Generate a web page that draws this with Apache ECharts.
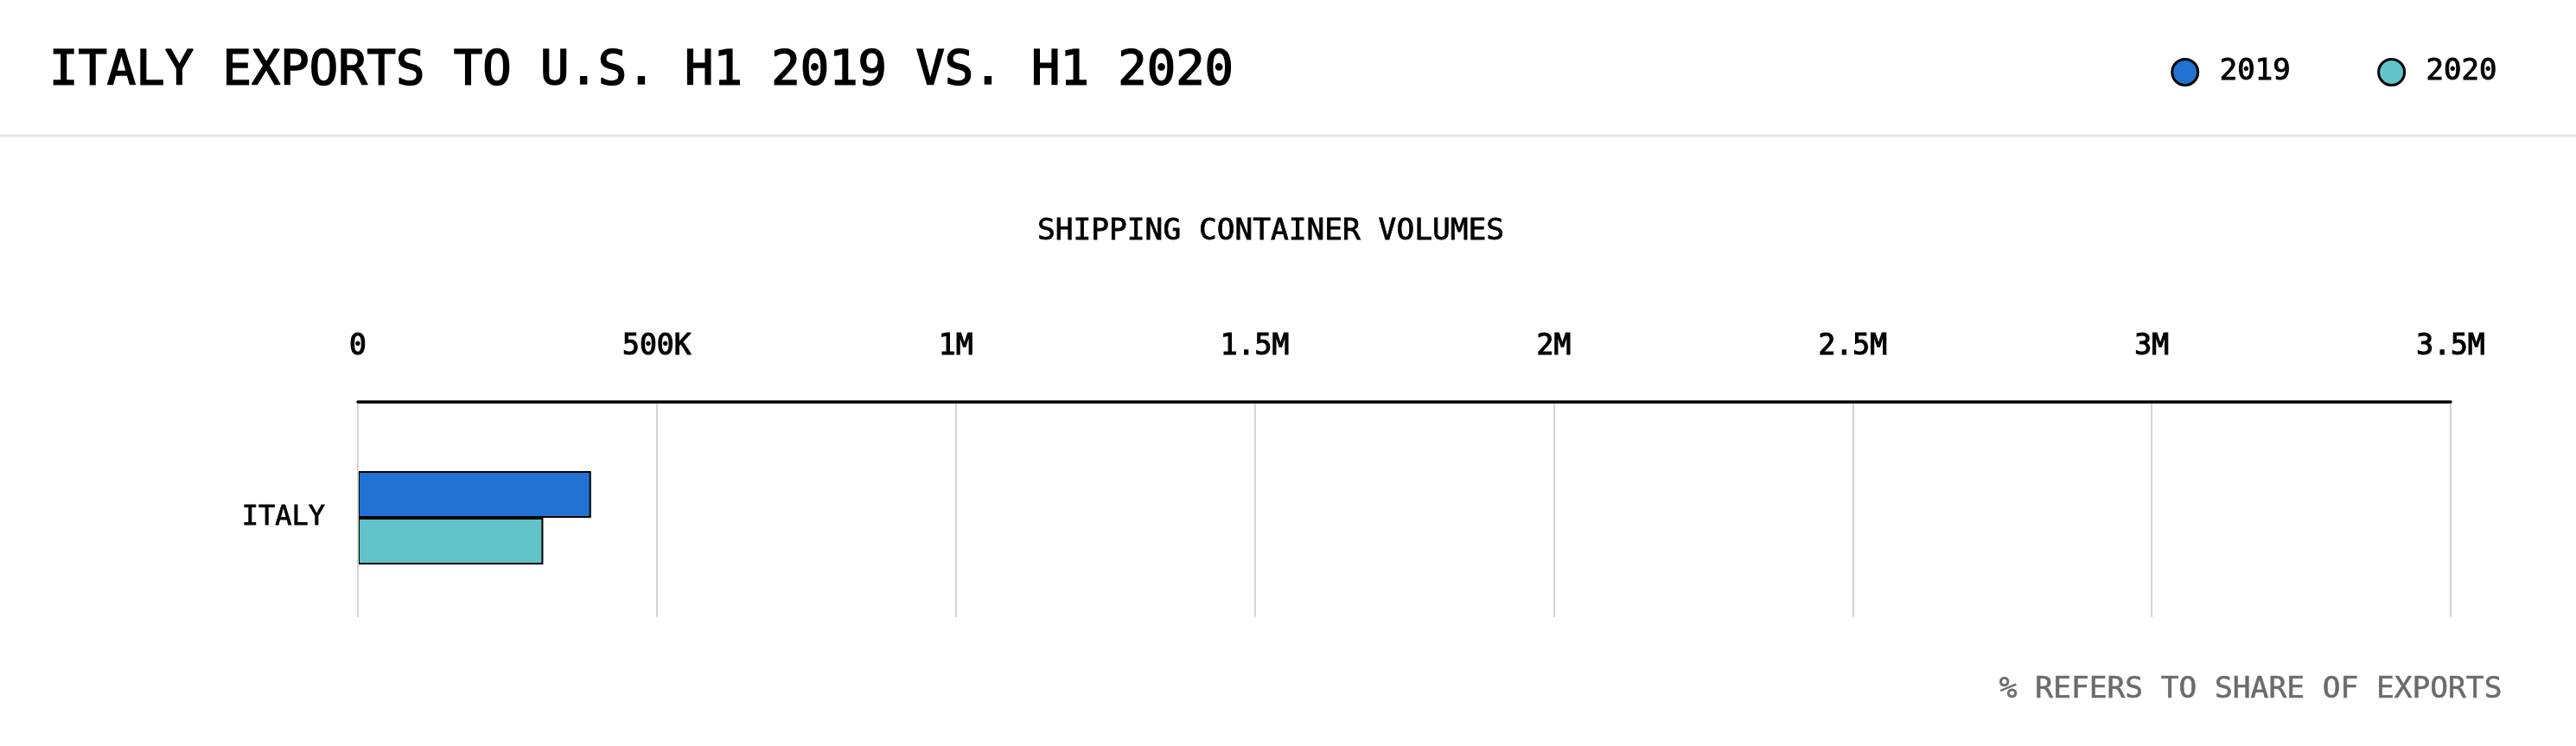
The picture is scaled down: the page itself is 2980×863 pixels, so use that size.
<!DOCTYPE html>
<html>
<head>
<meta charset="utf-8">
<script src="https://cdn.jsdelivr.net/npm/echarts@6/dist/echarts.min.js"></script>
<style>
html,body{margin:0;padding:0;background:#fff;}
#chart{width:2980px;height:863px;}
</style>
</head>
<body>
<div id="chart"></div>
<script>
const categories = ['ITALY'];
const seriesNames = ['2019', '2020'];
const values2019 = [390000];
const values2020 = [310000];
const tickLabels = ['0', '500K', '1M', '1.5M', '2M', '2.5M', '3M', '3.5M'];
const axisMin = 0;
const axisMax = 3500000;
const axisInterval = 500000;

const FONT = 'DejaVu Sans Mono';
const chart = echarts.init(document.getElementById('chart'));

chart.setOption({
  backgroundColor: '#ffffff',
  animation: false,
  title: [
    {
      text: 'ITALY EXPORTS TO U.S. H1 2019 VS. H1 2020',
      left: 52,
      top: 50,
      textStyle: { fontFamily: FONT, fontSize: 55.5, fontWeight: 'normal', color: '#000',
        textBorderColor: '#000', textBorderWidth: 1.6 }
    },
    {
      text: '% REFERS TO SHARE OF EXPORTS',
      right: 80,
      top: 776,
      textStyle: { fontFamily: FONT, fontSize: 34.5, fontWeight: 'normal', color: '#6b6b6b',
        textBorderColor: '#6b6b6b', textBorderWidth: 0.6 }
    }
  ],
  legend: {
    data: seriesNames,
    right: 86,
    top: 61,
    icon: 'circle',
    itemWidth: 30,
    itemHeight: 30,
    itemGap: 100,
    itemStyle: { borderColor: '#000', borderWidth: 3 },
    textStyle: { fontFamily: FONT, fontSize: 34, color: '#000', padding: [0, 0, 0, 20],
      textBorderColor: '#000', textBorderWidth: 1 }
  },
  graphic: [
    {
      type: 'line',
      shape: { x1: 0, y1: 157, x2: 2980, y2: 157 },
      style: { stroke: '#e6e6e6', lineWidth: 3 },
      silent: true
    },
    {
      type: 'text',
      x: 1470,
      y: 268,
      style: {
        text: 'SHIPPING CONTAINER VOLUMES',
        fontFamily: FONT,
        fontSize: 34.5,
        fill: '#000',
        stroke: '#000',
        lineWidth: 0.8,
        align: 'center',
        verticalAlign: 'middle'
      },
      silent: true
    }
  ],
  grid: [
    { left: 414, right: 145, top: 465, height: 249, containLabel: false },
    { left: 414, right: 145, top: 465, height: 268, containLabel: false }
  ],
  xAxis: [
    {
      gridIndex: 0,
      type: 'value',
      position: 'top',
      min: axisMin,
      max: axisMax,
      interval: axisInterval,
      axisLine: { show: true, onZero: false, lineStyle: { color: '#000', width: 3.5 } },
      axisTick: { show: false },
      splitLine: { show: true, lineStyle: { color: '#d4d4d4', width: 2 } },
      axisLabel: {
        margin: 47,
        fontFamily: FONT,
        fontSize: 33,
        color: '#000',
        textBorderColor: '#000',
        textBorderWidth: 1.2,
        formatter: function (v) { return tickLabels[Math.round((v - axisMin) / axisInterval)]; }
      },
      z: 3
    },
    {
      gridIndex: 1,
      type: 'value',
      position: 'top',
      min: axisMin,
      max: axisMax,
      interval: axisInterval,
      show: false
    }
  ],
  yAxis: [
    {
      gridIndex: 0,
      type: 'category',
      data: categories,
      show: false
    },
    {
      gridIndex: 1,
      type: 'category',
      data: categories,
      axisLine: { show: false },
      axisTick: { show: false },
      splitLine: { show: false },
      axisLabel: { margin: 38, fontFamily: FONT, fontSize: 32, color: '#000',
        textBorderColor: '#000', textBorderWidth: 0.8 }
    }
  ],
  series: [
    {
      name: seriesNames[0],
      type: 'bar',
      xAxisIndex: 1,
      yAxisIndex: 1,
      data: values2019,
      barWidth: 54,
      barGap: '0%',
      itemStyle: { color: '#2272d2', borderColor: '#000', borderWidth: 2 }
    },
    {
      name: seriesNames[1],
      type: 'bar',
      xAxisIndex: 1,
      yAxisIndex: 1,
      data: values2020,
      barWidth: 54,
      barGap: '0%',
      itemStyle: { color: '#62c3cb', borderColor: '#000', borderWidth: 2 }
    }
  ]
});
</script>
</body>
</html>
